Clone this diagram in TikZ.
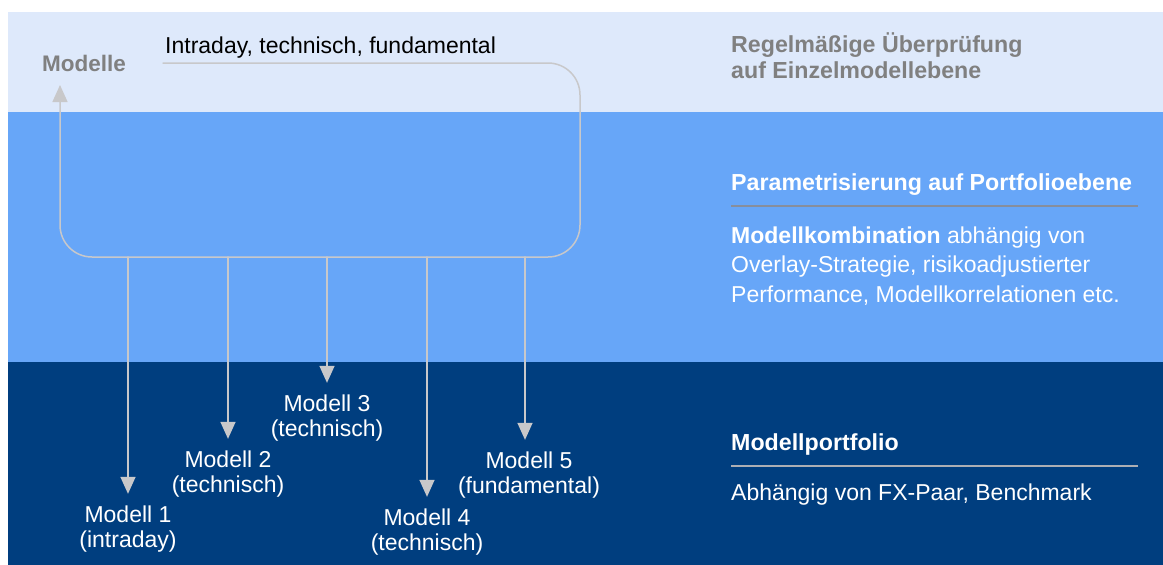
\documentclass[tikz,border=0pt]{standalone}
\usepackage{fontspec}
\setmainfont{Liberation Sans}
\usepackage{pgf,tikz}
\usetikzlibrary{arrows.meta}
\definecolor{hellblau}{RGB}{222,233,251}
\definecolor{mittelblau}{RGB}{103,166,248}
\definecolor{dunkelblau}{RGB}{0,62,127}
\definecolor{rahmengrau}{RGB}{200,200,202}
\definecolor{textgrau}{RGB}{128,128,128}
\definecolor{linieB}{RGB}{135,142,156}
\definecolor{linieC}{RGB}{172,174,180}
\tikzset{
  rahmen/.style={color=rahmengrau,line width=1.5pt},
  modell/.style={text=white,align=center,inner sep=0pt,font=\fontsize{23}{24.5}\selectfont},
  kopf/.style={font=\bfseries\fontsize{23.2}{25.5}\selectfont,align=left,inner sep=0pt},
  fliess/.style={font=\fontsize{23}{29.5}\selectfont,align=left,inner sep=0pt}
}

\begin{document}
\begin{tikzpicture}[line cap=round,line join=round,>={Triangle[width=15pt,length=17pt]},x=1pt,y=-1pt]
      \useasboundingbox (0,0) rectangle (1163,565);
      \fill[hellblau] (8,12) rectangle (1163,112);
      \fill[mittelblau] (8,112) rectangle (1163,362);
      \fill[dunkelblau] (8,362) rectangle (1163,565);
      % Rahmen um die Modelle
      \coordinate (rs) at (163,63);
      \coordinate (re) at (60,85);
      \draw[rahmen,rounded corners=32pt,->] (rs) -- (580,63) -- (580,257) -- (60,257) -- (re);
      \node[anchor=base west,inner sep=0pt,font=\fontsize{23}{25}\selectfont] (typen) at (165,53) {Intraday, technisch, fundamental};
      \node[anchor=base west,inner sep=0pt,text=textgrau,font=\bfseries\fontsize{22.5}{24}\selectfont] (modelle) at (42,71) {Modelle};
      % Einzelmodelle
      \foreach \x/\n in {128/1,228/2,327/3,427/4,525/5}
      \coordinate (b\n) at (\x,257);
      \node[modell] (m1) at (128,529) {Modell 1\\(intraday)};
      \node[modell] (m2) at (228,474) {Modell 2\\(technisch)};
      \node[modell] (m3) at (327,418) {Modell 3\\(technisch)};
      \node[modell] (m4) at (427,532) {Modell 4\\(technisch)};
      \node[modell] (m5) at (529,475) {Modell 5\\(fundamental)};
      \foreach \n in {1,...,5}
      \draw[rahmen,->,shorten >=12pt] (b\n) -- (b\n |- m\n.north);
      % rechte Spalte (base = letzte Zeile)
      \node[kopf,text=textgrau,anchor=base west] (pruef) at (731,78) {Regelmäßige Überprüfung\\auf Einzelmodellebene};
      \node[kopf,text=white,anchor=base west] (param) at (731,190) {Parametrisierung auf Portfolioebene};
      \draw[color=linieB,line width=2pt,line cap=butt] (731,206) -- (1138,206);
      \node[fliess,text=white,anchor=base west] (kombi) at (731,302) {\textbf{Modellkombination} abhängig von\\Overlay-Strategie, risikoadjustierter\\Performance, Modellkorrelationen etc.};
      \node[kopf,text=white,anchor=base west] (portfolio) at (731,450) {Modellportfolio};
      \draw[color=linieC,line width=1.5pt,line cap=butt] (731,466) -- (1138,466);
      \node[fliess,text=white,anchor=base west] (abh) at (731,500) {Abhängig von FX-Paar, Benchmark};
    \end{tikzpicture}
\end{document}
